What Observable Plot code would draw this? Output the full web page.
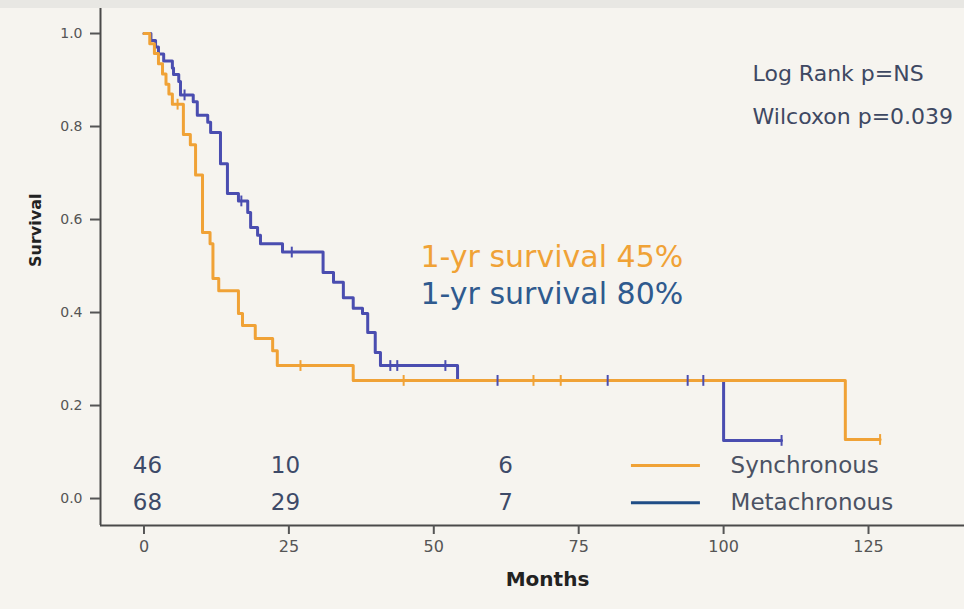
<!DOCTYPE html>
<html><head><meta charset="utf-8">
<script src="https://cdn.jsdelivr.net/npm/d3@7"></script>
<script src="https://cdn.jsdelivr.net/npm/@observablehq/plot@0.6"></script>
<style>
html,body{margin:0;padding:0;background:#f6f4ef;}
#band{height:8px;background:#e8e7e3;}
#chart svg{display:block;}
</style></head><body>
<div id="band"></div>
<div id="chart"></div>
<script>
// Synchronous (orange) Kaplan–Meier steps: time (months) and survival from that time on
const syncTimes = [0, 1.0, 1.8, 2.5, 3.2, 3.8, 4.3, 4.9, 6.8, 8.0, 8.9, 10.1, 11.4, 11.9, 12.9, 16.3, 17.0, 19.2, 22.2, 23.0, 36.1, 121, 127];
const syncSurv  = [1.0, 0.978, 0.957, 0.935, 0.913, 0.891, 0.870, 0.848, 0.783, 0.761, 0.696, 0.572, 0.548, 0.473, 0.447, 0.398, 0.372, 0.344, 0.318, 0.286, 0.254, 0.127, 0.127];
const syncCensorTimes = [5.8, 27, 44.8, 67.2, 71.9, 127];
const syncCensorSurv  = [0.848, 0.286, 0.254, 0.254, 0.254, 0.127];

// Metachronous (blue)
const metaTimes = [0, 1.2, 2.0, 2.5, 3.4, 4.9, 5.1, 6.0, 6.3, 8.5, 9.2, 11.0, 11.5, 13.2, 14.4, 16.3, 17.9, 18.4, 19.6, 20.1, 23.9, 30.9, 32.7, 34.4, 36.1, 37.7, 38.6, 39.9, 40.8, 54.1, 100, 110];
const metaSurv  = [1.0, 0.985, 0.971, 0.956, 0.941, 0.926, 0.912, 0.897, 0.868, 0.853, 0.824, 0.809, 0.787, 0.720, 0.656, 0.640, 0.615, 0.583, 0.566, 0.548, 0.530, 0.486, 0.465, 0.432, 0.409, 0.398, 0.357, 0.314, 0.286, 0.254, 0.125, 0.125];
const metaCensorTimes = [7.0, 16.8, 25.5, 42.5, 43.7, 52, 61, 80, 93.8, 96.5, 110];
const metaCensorSurv  = [0.868, 0.640, 0.530, 0.286, 0.286, 0.286, 0.254, 0.254, 0.254, 0.254, 0.125];

// Numbers at risk
const riskTimes = [0.6, 24.4, 62.4];
const riskSync = ["46", "10", "6"];
const riskMeta = ["68", "29", "7"];
const riskRowY = [0.071, -0.009];

// Axis ticks
const xTicks = [0, 25, 50, 75, 100, 125];
const yTicks = [0, 0.2, 0.4, 0.6, 0.8, 1.0];

// Legend
const groups = ["Synchronous", "Metachronous"];
const legendY = [0.071, -0.009];
const legendX = [84.1, 96.0, 101.2];

// Annotations
const statLabels = ["Log Rank p=NS", "Wilcoxon p=0.039"];
const statX = 105.0;
const statY = [0.914, 0.82];
const oneYr = ["1-yr survival 45%", "1-yr survival 80%"];
const oneYrX = 47.7;
const oneYrY = [0.518, 0.44];

const ORANGE = "#f0a236", BLUE = "#4a4db0", BLUE_TXT = "#2f5a8e", LEG_BLUE = "#1f4d86";
const font = "'DejaVu Sans', sans-serif";
const xDomain = [-7.5, 141.56];
const yDomain = [-0.058, 1.0538];

const sync = syncTimes.map((t, i) => ({t, s: syncSurv[i]}));
const meta = metaTimes.map((t, i) => ({t, s: metaSurv[i]}));
const syncC = syncCensorTimes.map((t, i) => ({t, s: syncCensorSurv[i]}));
const metaC = metaCensorTimes.map((t, i) => ({t, s: metaCensorSurv[i]}));
const risk = [];
riskTimes.forEach((t, i) => {
  risk.push({t, y: riskRowY[0], n: riskSync[i]});
  risk.push({t, y: riskRowY[1], n: riskMeta[i]});
});
const legend = groups.map((g, i) => ({g, y: legendY[i], c: i === 0 ? ORANGE : LEG_BLUE}));

const vtick = {draw(ctx, size) { const h = Math.sqrt(size / Math.PI) * 1.8; ctx.moveTo(0, -h); ctx.lineTo(0, h); }};

const plot = Plot.plot({
  width: 964, height: 601,
  marginLeft: 100, marginRight: 0, marginTop: 0, marginBottom: 84,
  style: {background: "transparent", fontFamily: font},
  x: {domain: xDomain},
  y: {domain: yDomain},
  marks: [
    Plot.ruleX([xDomain[0]], {stroke: "#4a4a4a", strokeWidth: 2}),
    Plot.ruleY([yDomain[0]], {stroke: "#4a4a4a", strokeWidth: 2}),
    Plot.axisY(yTicks, {tickFormat: d3.format(".1f"), tickSize: 10, tickPadding: 8, fontSize: 14, color: "#555", strokeWidth: 2, label: null}),
    Plot.axisX(xTicks, {tickSize: 9, tickPadding: 6, fontSize: 16, color: "#555", strokeWidth: 2, label: null}),
    Plot.text(["Survival"], {frameAnchor: "left", dx: -65, rotate: -90, fontSize: 16, fontWeight: "bold", fill: "#222"}),
    Plot.text(["Months"], {frameAnchor: "bottom", dx: 15, dy: 60, fontSize: 20, fontWeight: "bold", fill: "#222"}),
    Plot.line(meta, {x: "t", y: "s", curve: "step-after", stroke: BLUE, strokeWidth: 3}),
    Plot.line(sync, {x: "t", y: "s", curve: "step-after", stroke: ORANGE, strokeWidth: 3}),
    Plot.dot(syncC, {x: "t", y: "s", symbol: vtick, r: 3, stroke: ORANGE, strokeWidth: 2}),
    Plot.dot(metaC, {x: "t", y: "s", symbol: vtick, r: 3, stroke: BLUE, strokeWidth: 2}),
    Plot.text(risk, {x: "t", y: "y", text: "n", fontSize: 23, fill: "#3d4a68"}),
    Plot.ruleY(legend, {y: "y", x1: legendX[0], x2: legendX[1], stroke: "c", strokeWidth: 3}),
    Plot.text(legend, {x: legendX[2], y: "y", text: "g", textAnchor: "start", fontSize: 23, fill: "#4b5263"}),
    Plot.text(statLabels, {x: statX, y: (d, i) => statY[i], text: d => d, textAnchor: "start", fontSize: 22, fill: "#3e4862"}),
    Plot.text(oneYr, {x: oneYrX, y: (d, i) => oneYrY[i], text: d => d, textAnchor: "start", fontSize: 30, fill: (d, i) => i === 0 ? ORANGE : BLUE_TXT})
  ]
});
document.getElementById("chart").appendChild(plot);
</script>
</body></html>
